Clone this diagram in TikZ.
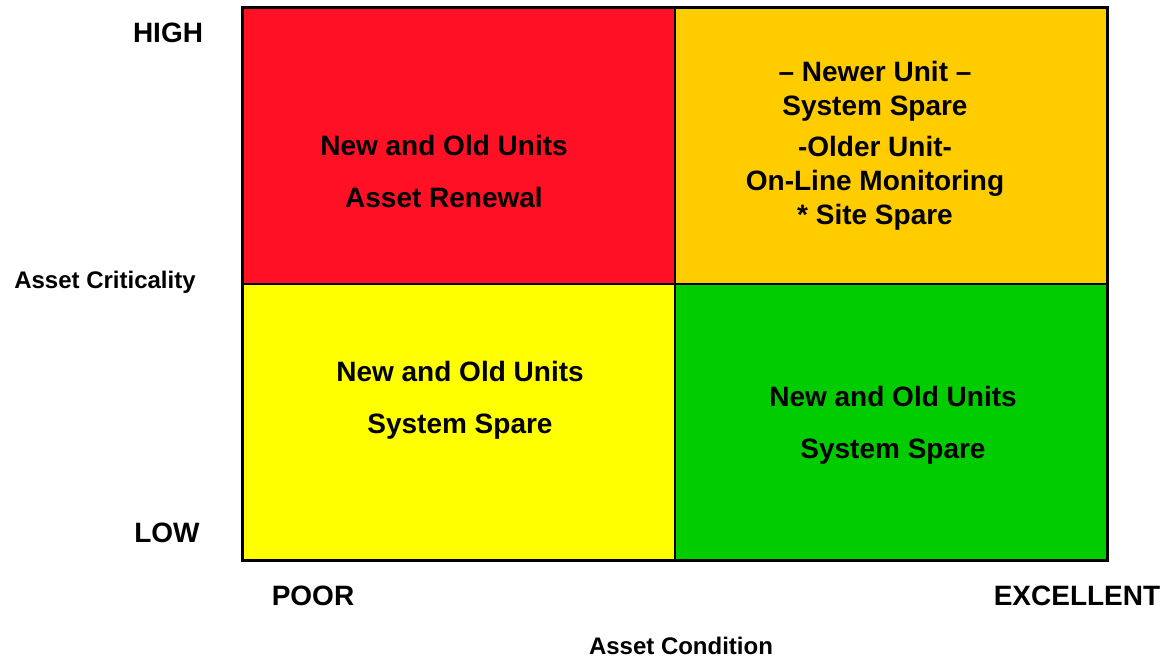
\documentclass[tikz,border=0pt]{standalone}
\usepackage{fontspec}
\setmainfont{Liberation Sans}
\usepackage{xcolor}
\definecolor{critred}{RGB}{255,16,36}
\definecolor{critorange}{RGB}{255,204,0}
\definecolor{crityellow}{RGB}{255,255,0}
\definecolor{critgreen}{RGB}{0,204,0}
\tikzset{
  quad/.style={draw=black, line width=1.2pt, minimum width=432pt, minimum height=276pt, inner sep=0pt},
  cell/.style={align=center, font=\fontsize{28}{52}\selectfont\bfseries},
  axis/.style={font=\fontsize{28}{32}\selectfont\bfseries},
  title/.style={font=\fontsize{24}{28}\selectfont\bfseries}
}
\begin{document}
\begin{tikzpicture}[x=1pt,y=-1pt]
		\useasboundingbox (0,0) rectangle (1171,662);
		
		\node[quad, fill=critred] (hp) at (459,146)     {};
		\node[quad, fill=critorange] (he) at (891,146)     {};
		\node[quad, fill=crityellow] (lp) at (459,422)     {};
		\node[quad, fill=critgreen] (le) at (891,422)     {};
		\draw[line width=3.5pt] (hp.north west) rectangle (le.south east);
		
		\node[cell] (hptext) at (444,171)     {New and Old Units\\Asset Renewal};
		\node[cell, font=\fontsize{28}{34}\selectfont\bfseries] (hetext) at (875,146)     {-- Newer Unit --\\System Spare\\[7pt]-Older Unit-\\On-Line Monitoring\\* Site Spare};
		\node[cell] (lptext) at (460,400)     {New and Old Units\\System Spare};
		\node[cell] (letext) at (893,425)     {New and Old Units\\System Spare};
		
		\node[axis] (high) at (168,33)     {HIGH};
		\node[axis] (low) at (167,533)     {LOW};
		\node[axis] (poor) at (313,596)     {POOR};
		\node[axis] (excellent) at (1077,596)     {EXCELLENT};
		\node[title] (crit) at (105,282)     {Asset Criticality};
		\node[title] (cond) at (681,646)     {Asset Condition};
		\end{tikzpicture}
\end{document}
